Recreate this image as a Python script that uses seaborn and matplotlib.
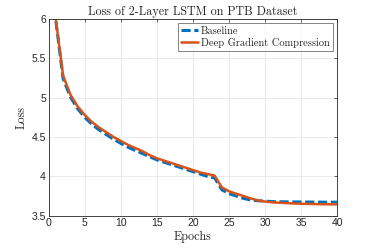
import numpy as np
import pandas as pd
import matplotlib
matplotlib.use('Agg')
import matplotlib.pyplot as plt
import seaborn as sns

epochs = list(range(1, 41))
baseline = [5.97, 5.24, 5.01, 4.86, 4.75, 4.66, 4.59, 4.53, 4.47, 4.42,
            4.37, 4.33, 4.29, 4.25, 4.21, 4.18, 4.15, 4.12, 4.09, 4.06,
            4.03, 4.00, 3.98, 3.83, 3.78, 3.75, 3.72, 3.70, 3.69, 3.685,
            3.68, 3.678, 3.676, 3.675, 3.675, 3.674, 3.673, 3.672, 3.672, 3.672]
dgc = [5.98, 5.28, 5.04, 4.89, 4.78, 4.69, 4.62, 4.56, 4.50, 4.45,
       4.40, 4.36, 4.32, 4.27, 4.23, 4.20, 4.17, 4.14, 4.11, 4.08,
       4.05, 4.03, 4.01, 3.86, 3.81, 3.78, 3.75, 3.72, 3.695, 3.68,
       3.67, 3.665, 3.66, 3.655, 3.652, 3.65, 3.648, 3.646, 3.645, 3.644]
x_ticks = [0, 5, 10, 15, 20, 25, 30, 35, 40]
y_ticks = [3.5, 4, 4.5, 5, 5.5, 6]
y_tick_labels = ['3.5', '4', '4.5', '5', '5.5', '6']

df = pd.DataFrame({
    'Epochs': epochs * 2,
    'Loss': baseline + dgc,
    'Method': ['Baseline'] * 40 + ['Deep Gradient Compression'] * 40,
})

sns.set_style('whitegrid')
plt.rcParams['font.family'] = ['Liberation Sans', 'DejaVu Sans']
plt.rcParams['axes.unicode_minus'] = False
serif = 'cmr10'

fig = plt.figure(figsize=(3.73, 2.49), dpi=100)
ax = fig.add_axes([0.1306, 0.1337, 0.7734, 0.79])

palette = {'Baseline': '#0072BD', 'Deep Gradient Compression': '#D95319'}
dashes = {'Baseline': (3, 1.2), 'Deep Gradient Compression': ''}
sns.lineplot(data=df, x='Epochs', y='Loss', hue='Method', style='Method',
             palette=palette, dashes=dashes, ax=ax, linewidth=1.8)
for line in ax.lines:
    if line.get_color() == '#0072BD':
        line.set_linewidth(2.2)

ax.set_xlim(0, 40)
ax.set_ylim(3.5, 6)
ax.set_xticks(x_ticks)
ax.set_yticks(y_ticks)
ax.set_yticklabels(y_tick_labels)
ax.tick_params(labelsize=7.5, colors='#262626', direction='in', length=2.5,
               width=0.5, pad=2, top=True, right=True)
ax.grid(True, color='#e3e3e3', linewidth=0.5)
for s in ax.spines.values():
    s.set_color('#262626')
    s.set_linewidth(0.6)

ax.set_title('Loss of 2-Layer LSTM on PTB Dataset', fontfamily=serif,
             fontsize=8.7, pad=3)
ax.set_xlabel('Epochs', fontfamily=serif, fontsize=8.7, labelpad=2)
ax.set_ylabel('Loss', fontfamily=serif, fontsize=8.7, labelpad=3)

leg = ax.legend(loc='upper right', prop={'family': serif, 'size': 7.5},
                frameon=True, fancybox=False, borderpad=0.3, labelspacing=0.2,
                handlelength=1.6, handletextpad=0.3, borderaxespad=0.4)
leg.get_frame().set_edgecolor('#262626')
leg.get_frame().set_linewidth(0.5)

fig.savefig('out.png', dpi=100)
